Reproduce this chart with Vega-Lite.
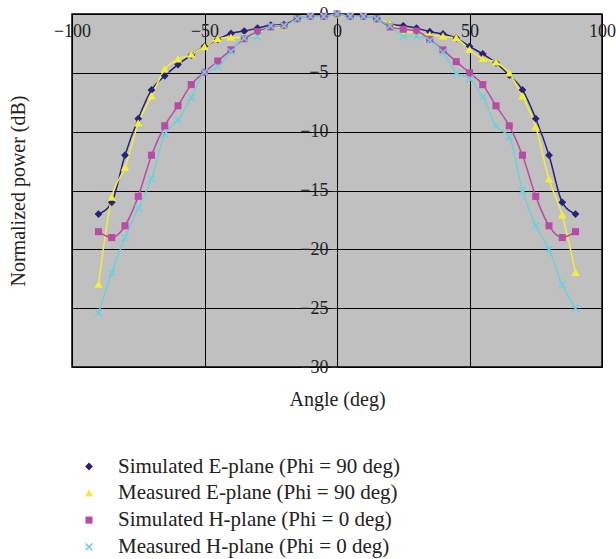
{
  "$schema": "https://vega.github.io/schema/vega-lite/v6.json",
  "width": 530,
  "height": 353,
  "autosize": {"type": "none"},
  "padding": {"left": 72, "top": 14, "right": 14, "bottom": 192},
  "background": "white",
  "config": {
    "view": {"fill": "#C0C0C0", "stroke": "black", "strokeWidth": 1.5},
    "font": "Liberation Serif",
    "legend": {
      "orient": "none",
      "legendX": 6.5,
      "legendY": 442,
      "padding": 0,
      "symbolSize": 50,
      "symbolStrokeWidth": 0,
      "rowPadding": 4.8,
      "labelOffset": 18.5,
      "labelFontSize": 21,
      "labelColor": "#222",
      "labelLimit": 500
    }
  },
  "data": {
    "values": [
      {"angle": -90, "SE": -17.0, "ME": -23.0, "SH": -18.5, "MH": -25.4},
      {"angle": -85, "SE": -16.0, "ME": -15.6, "SH": -19.0, "MH": -22.0},
      {"angle": -80, "SE": -12.0, "ME": -13.05, "SH": -18.0, "MH": -19.0},
      {"angle": -75, "SE": -8.9, "ME": -9.3, "SH": -15.5, "MH": -16.5},
      {"angle": -70, "SE": -6.45, "ME": -7.0, "SH": -12.0, "MH": -14.0},
      {"angle": -65, "SE": -5.25, "ME": -4.7, "SH": -9.5, "MH": -10.2},
      {"angle": -60, "SE": -4.3, "ME": -3.85, "SH": -7.8, "MH": -9.0},
      {"angle": -55, "SE": -3.5, "ME": -3.45, "SH": -6.0, "MH": -7.1},
      {"angle": -50, "SE": -2.75, "ME": -2.8, "SH": -4.95, "MH": -4.95},
      {"angle": -45, "SE": -2.15, "ME": -2.1, "SH": -4.0, "MH": -4.5},
      {"angle": -40, "SE": -1.65, "ME": -2.0, "SH": -3.05, "MH": -3.2},
      {"angle": -35, "SE": -1.45, "ME": -2.0, "SH": -2.1, "MH": -2.05},
      {"angle": -30, "SE": -1.2, "ME": -1.65, "SH": -1.5, "MH": -1.95},
      {"angle": -25, "SE": -0.95, "ME": -1.1, "SH": -1.1, "MH": -1.0},
      {"angle": -20, "SE": -0.9, "ME": -1.1, "SH": -1.0, "MH": -1.0},
      {"angle": -15, "SE": -0.4, "ME": -0.4, "SH": -0.4, "MH": -0.4},
      {"angle": -10, "SE": -0.2, "ME": -0.2, "SH": -0.2, "MH": -0.2},
      {"angle": -5, "SE": -0.2, "ME": -0.2, "SH": -0.2, "MH": -0.2},
      {"angle": 0, "SE": 0, "ME": -0.1, "SH": 0, "MH": 0},
      {"angle": 5, "SE": -0.2, "ME": -0.2, "SH": -0.2, "MH": -0.2},
      {"angle": 10, "SE": -0.2, "ME": -0.2, "SH": -0.2, "MH": -0.2},
      {"angle": 15, "SE": -0.4, "ME": -0.4, "SH": -0.4, "MH": -0.4},
      {"angle": 20, "SE": -0.85, "ME": -0.8, "SH": -1.1, "MH": -1.0},
      {"angle": 25, "SE": -1.0, "ME": -1.45, "SH": -1.3, "MH": -1.9},
      {"angle": 30, "SE": -1.2, "ME": -1.6, "SH": -1.45, "MH": -1.9},
      {"angle": 35, "SE": -1.5, "ME": -1.8, "SH": -2.15, "MH": -2.25},
      {"angle": 40, "SE": -1.7, "ME": -1.9, "SH": -3.05, "MH": -3.25},
      {"angle": 45, "SE": -2.05, "ME": -2.05, "SH": -4.05, "MH": -5.0},
      {"angle": 50, "SE": -2.75, "ME": -3.05, "SH": -5.0, "MH": -5.5},
      {"angle": 55, "SE": -3.4, "ME": -3.8, "SH": -6.0, "MH": -7.05},
      {"angle": 60, "SE": -4.15, "ME": -4.1, "SH": -7.8, "MH": -9.5},
      {"angle": 65, "SE": -5.2, "ME": -5.05, "SH": -9.5, "MH": -10.45},
      {"angle": 70, "SE": -6.45, "ME": -7.0, "SH": -12.0, "MH": -15.0},
      {"angle": 75, "SE": -8.9, "ME": -9.6, "SH": -15.5, "MH": -18.0},
      {"angle": 80, "SE": -12.0, "ME": -14.05, "SH": -18.0, "MH": -20.0},
      {"angle": 85, "SE": -16.0, "ME": -17.1, "SH": -19.0, "MH": -23.0},
      {"angle": 90, "SE": -17.0, "ME": -22.0, "SH": -18.5, "MH": -25.0}
    ]
  },
  "transform": [{"fold": ["SE", "ME", "SH", "MH"], "as": ["series", "power"]}],
  "encoding": {
    "x": {
      "field": "angle",
      "type": "quantitative",
      "scale": {"domain": [-100, 100], "nice": false, "zero": false},
      "axis": {
        "orient": "bottom",
        "offset": -353,
        "values": [-100, -50, 0, 50, 100],
        "grid": true,
        "gridColor": "black",
        "gridOpacity": 1,
        "gridWidth": 1,
        "domain": false,
        "ticks": false,
        "labelFlush": false,
        "labelOverlap": false,
        "labelFontSize": 18,
        "labelColor": "#222",
        "labelPadding": 8,
        "title": "Angle (deg)",
        "titleFontSize": 20,
        "titleFontWeight": "normal",
        "titleColor": "#222",
        "titleY": 385,
        "titleBaseline": "middle"
      }
    },
    "y": {
      "field": "power",
      "type": "quantitative",
      "scale": {"domain": [-30, 0], "nice": false, "zero": false},
      "axis": {
        "orient": "left",
        "offset": -265,
        "values": [-30, -25, -20, -15, -10, -5, 0],
        "grid": true,
        "gridColor": "black",
        "gridOpacity": 1,
        "gridWidth": 1,
        "domain": false,
        "ticks": true,
        "tickSize": 6,
        "tickColor": "#222",
        "labelPadding": 3,
        "labelOverlap": false,
        "labelFontSize": 18,
        "labelColor": "#222",
        "title": "Normalized power (dB)",
        "titleFontSize": 20,
        "titleFontWeight": "normal",
        "titleColor": "#222",
        "titleX": -319,
        "titleY": 176.5,
        "titleBaseline": "middle"
      }
    }
  },
  "layer": [
    {
      "mark": {"type": "line", "interpolate": "monotone", "strokeWidth": 1.5},
      "encoding": {
        "stroke": {
          "field": "series",
          "type": "nominal",
          "scale": {"domain": ["SH", "SE", "ME", "MH"], "range": ["#BA4AA5", "#25227A", "#F2EE3A", "#6DD0DB"]},
          "legend": null
        }
      }
    },
    {
      "mark": {"type": "point", "filled": true, "size": 50, "opacity": 1},
      "encoding": {
        "color": {
          "field": "series",
          "type": "nominal",
          "scale": {"domain": ["SE", "ME", "SH", "MH"], "range": ["#25227A", "#F2EE3A", "#BA4AA5", "#6DD0DB"]},
          "legend": {
            "title": null,
            "labelExpr": "datum.value === 'SE' ? 'Simulated E-plane (Phi = 90 deg)' : datum.value === 'ME' ? 'Measured E-plane (Phi = 90 deg)' : datum.value === 'SH' ? 'Simulated H-plane (Phi = 0 deg)' : 'Measured H-plane (Phi = 0 deg)'"
          }
        },
        "shape": {
          "field": "series",
          "type": "nominal",
          "scale": {
            "domain": ["SE", "ME", "SH", "MH"],
            "range": [
              "M0,-1.1L1.1,0L0,1.1L-1.1,0Z",
              "M0,-1.15L1.2,0.9L-1.2,0.9Z",
              "M-1,-1L1,-1L1,1L-1,1Z",
              "M-1.1,-0.8L-0.8,-1.1L0,-0.3L0.8,-1.1L1.1,-0.8L0.3,0L1.1,0.8L0.8,1.1L0,0.3L-0.8,1.1L-1.1,0.8L-0.3,0Z"
            ]
          },
          "legend": {
            "title": null,
            "labelExpr": "datum.value === 'SE' ? 'Simulated E-plane (Phi = 90 deg)' : datum.value === 'ME' ? 'Measured E-plane (Phi = 90 deg)' : datum.value === 'SH' ? 'Simulated H-plane (Phi = 0 deg)' : 'Measured H-plane (Phi = 0 deg)'"
          }
        }
      }
    }
  ]
}
